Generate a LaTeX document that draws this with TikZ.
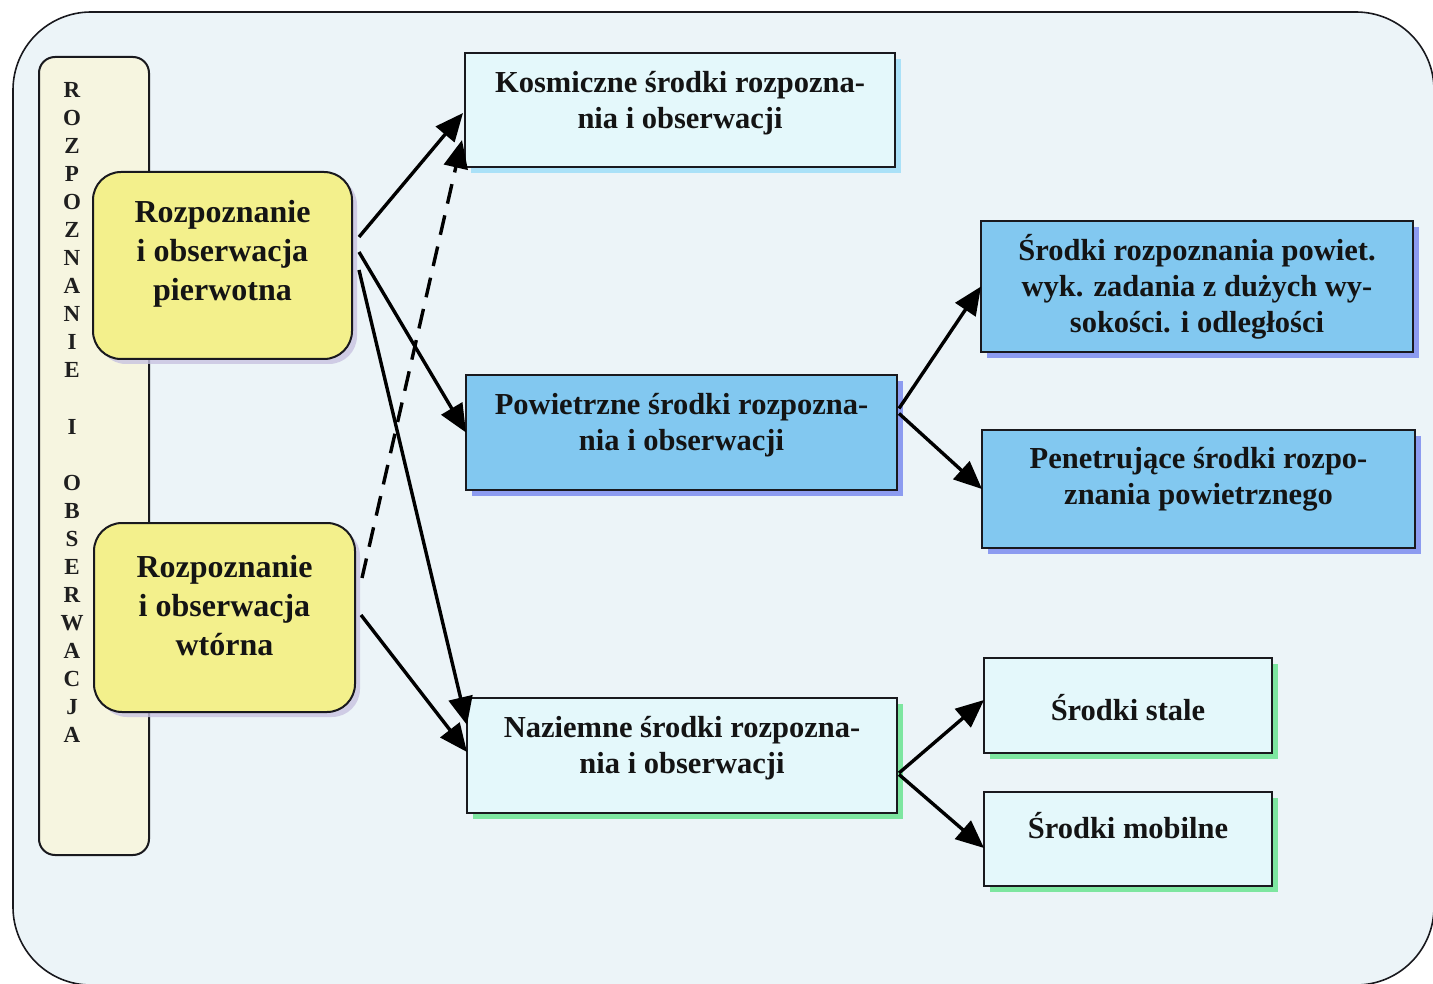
\documentclass[tikz,border=0pt]{standalone}
\usepackage{fontspec}
\setmainfont{Liberation Serif}
\usetikzlibrary{arrows.meta,shadows}
\definecolor{framebg}{RGB}{236,244,248}
\definecolor{barfill}{RGB}{246,245,224}
\definecolor{yel}{RGB}{243,240,140}
\definecolor{cyanfill}{RGB}{228,248,251}
\definecolor{bluefill}{RGB}{130,200,240}
\definecolor{shblue}{RGB}{140,155,240}
\definecolor{shgreen}{RGB}{125,230,160}
\definecolor{shcyan}{RGB}{170,225,248}
\definecolor{shgray}{RGB}{200,195,225}
\definecolor{edge}{RGB}{25,25,30}
\tikzset{
  txt/.style={font=\fontsize{30.5}{36}\selectfont\bfseries, align=center, inner sep=0pt, text=black!92},
  ytxt/.style={font=\fontsize{32}{39}\selectfont\bfseries, align=center, inner sep=0pt, text=black!92},
  boxbase/.style={draw=edge, line width=2pt, inner sep=0pt},
  cbox/.style={boxbase, fill=cyanfill},
  bbox/.style={boxbase, fill=bluefill, drop shadow={shadow xshift=6pt, shadow yshift=-6pt, fill=shblue, opacity=1}},
  kbox/.style={cbox, drop shadow={shadow xshift=6pt, shadow yshift=-6pt, fill=shcyan, opacity=1}},
  gbox/.style={cbox, drop shadow={shadow xshift=6pt, shadow yshift=-6pt, fill=shgreen, opacity=1}},
  ybox/.style={boxbase, fill=yel, rounded corners=28pt, drop shadow={shadow xshift=5pt, shadow yshift=-5pt, fill=shgray, opacity=0.8}},
  conn/.style={line width=3.4pt, draw=black, -{Triangle[length=28pt,width=24pt]}},
  dconn/.style={conn, dash pattern=on 20pt off 12pt}
}
\begin{document}
\begin{tikzpicture}[x=1pt,y=-1pt]
\useasboundingbox (0,0) rectangle (1433,984);
\fill[white] (0,0) rectangle (1433,984);
\draw[fill=framebg, line width=1.6pt, draw=edge, rounded corners=78pt] (13,12) rectangle (1434,985);

% left vertical bar
\node[boxbase, fill=barfill, rounded corners=16pt, minimum width=110pt, minimum height=798pt,
  label={[font=\fontsize{23}{28.04}\selectfont\bfseries, align=center, inner sep=0pt, xshift=-22pt, yshift=43.5pt, text=black!88]center:{R\\O\\Z\\P\\O\\Z\\N\\A\\N\\I\\E\\\mbox{}\\I\\\mbox{}\\O\\B\\S\\E\\R\\W\\A\\C\\J\\A}}]
  (bar) at (94,456) {};

% yellow boxes
\node[ybox, minimum width=259pt, minimum height=187pt,
  label={[ytxt, yshift=12pt]center:{Rozpoznanie\\i obserwacja\\pierwotna}}] (p1) at (222.5,265.5) {};
\node[ybox, minimum width=261pt, minimum height=189pt,
  label={[ytxt, yshift=12pt]center:{Rozpoznanie\\i obserwacja\\wtórna}}] (p2) at (224.5,617.5) {};

% middle column
\node[kbox, minimum width=430pt, minimum height=114pt,
  label={[txt, yshift=7pt]center:{Kosmiczne środki rozpozna-\\nia i obserwacji}}] (kos) at (680,110) {};
\node[bbox, minimum width=431pt, minimum height=115pt,
  label={[txt, yshift=7pt]center:{Powietrzne środki rozpozna-\\nia i obserwacji}}] (pow) at (681.5,432.5) {};
\node[gbox, minimum width=430pt, minimum height=115pt,
  label={[txt, yshift=7.5pt]center:{Naziemne środki rozpozna-\\nia i obserwacji}}] (naz) at (682,755.5) {};

% right column
\node[bbox, minimum width=432pt, minimum height=131pt,
  label={[txt, yshift=0pt]center:{Środki rozpoznania powiet.\\wyk. zadania z dużych wy-\\sokości. i odległości}}] (rp) at (1197,286.5) {};
\node[bbox, minimum width=433pt, minimum height=118pt,
  label={[txt, yshift=9.5pt]center:{Penetrujące środki rozpo-\\znania powietrznego}}] (pen) at (1198.5,489) {};
\node[gbox, minimum width=288pt, minimum height=95pt,
  label={[txt, yshift=-2.5pt]center:{Środki stale}}] (st) at (1128,705.5) {};
\node[gbox, minimum width=288pt, minimum height=94pt,
  label={[txt, yshift=13pt]center:{Środki mobilne}}] (mob) at (1128,839) {};

% connectors
\draw[conn] ([xshift=6pt,yshift=28.5pt]p1.east) -- ([xshift=-1pt,yshift=-3pt]kos.west);
\draw[conn] ([xshift=6pt,yshift=13.5pt]p1.east) -- ([xshift=1pt]pow.west);
\draw[conn] ([xshift=6pt,yshift=-4.5pt]p1.east) -- ([xshift=1pt,yshift=30.5pt]naz.west);
\draw[dconn] ([xshift=6pt,yshift=39.5pt]p2.east) -- ([xshift=-2pt,yshift=-30pt]kos.west);
\draw[conn] ([xshift=5pt,yshift=2.5pt]p2.east) -- ([xshift=1pt,yshift=3.5pt]naz.west);
\draw[conn] ([xshift=1pt,yshift=24pt]pow.east) -- ([xshift=1pt]rp.west);
\draw[conn] ([xshift=1pt,yshift=19pt]pow.east) -- ([xshift=1pt]pen.west);
\draw[conn] ([xshift=1pt,yshift=-17.5pt]naz.east) -- ([xshift=1pt,yshift=5.5pt]st.west);
\draw[conn] ([xshift=1pt,yshift=-19pt]naz.east) -- ([xshift=1pt,yshift=-9pt]mob.west);
\end{tikzpicture}
\end{document}
